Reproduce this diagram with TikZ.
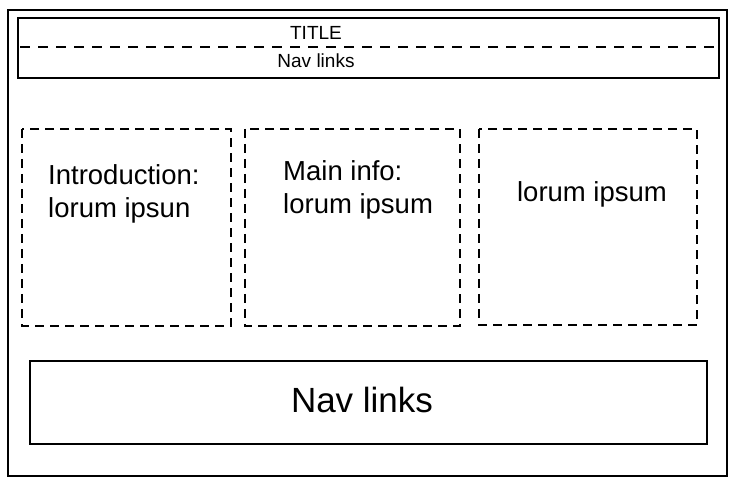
\documentclass[tikz,border=0pt]{standalone}
\usepackage{fontspec}
\setmainfont{Liberation Sans}
\begin{document}
\begin{tikzpicture}[x=1pt,y=-1pt,
  solidbox/.style={draw=black,line width=1.3pt,inner sep=0pt,outer sep=0pt},
  dashbox/.style={draw=black,line width=2pt,dash pattern=on 9pt off 6pt,inner sep=0pt,outer sep=0pt},
  dashrule/.style={draw=black,line width=2pt,dash pattern=on 10pt off 8pt},
  smalltxt/.style={inner sep=0pt,font=\fontsize{19}{23}\selectfont},
  midtxt/.style={inner sep=0pt,align=left,font=\fontsize{27.5}{33}\selectfont},
  bigtxt/.style={inner sep=0pt,font=\fontsize{35}{42}\selectfont}]
\useasboundingbox (0,0) rectangle (740,484);
% outer frame
\draw[solidbox] (8,10) rectangle (727,476);
% header
\draw[solidbox] (18,18) rectangle (719,78);
\coordinate (hl) at (20,47);
\coordinate (hr) at (716,47);
\draw[dashrule] (hl) -- (hr);
\node[smalltxt] (title) at (316,33) {TITLE};
\node[smalltxt] (nav1) at (316,61) {Nav links};
% content boxes
\draw[dashbox] (22,129) rectangle (231,326);
\draw[dashbox] (245,129) rectangle (460,326);
\draw[dashbox] (479,129) rectangle (697,325);
\node[midtxt,anchor=west] (intro) at (48,194) {Introduction:\\lorum ipsun};
\node[midtxt,anchor=west] (main) at (283,190) {Main info:\\lorum ipsum};
\node[midtxt] (lorem) at (592,194.5) {lorum ipsum};
% footer
\draw[solidbox] (30,361) rectangle (707,444);
\node[bigtxt] (nav2) at (362,400) {Nav links};
\end{tikzpicture}
\end{document}
